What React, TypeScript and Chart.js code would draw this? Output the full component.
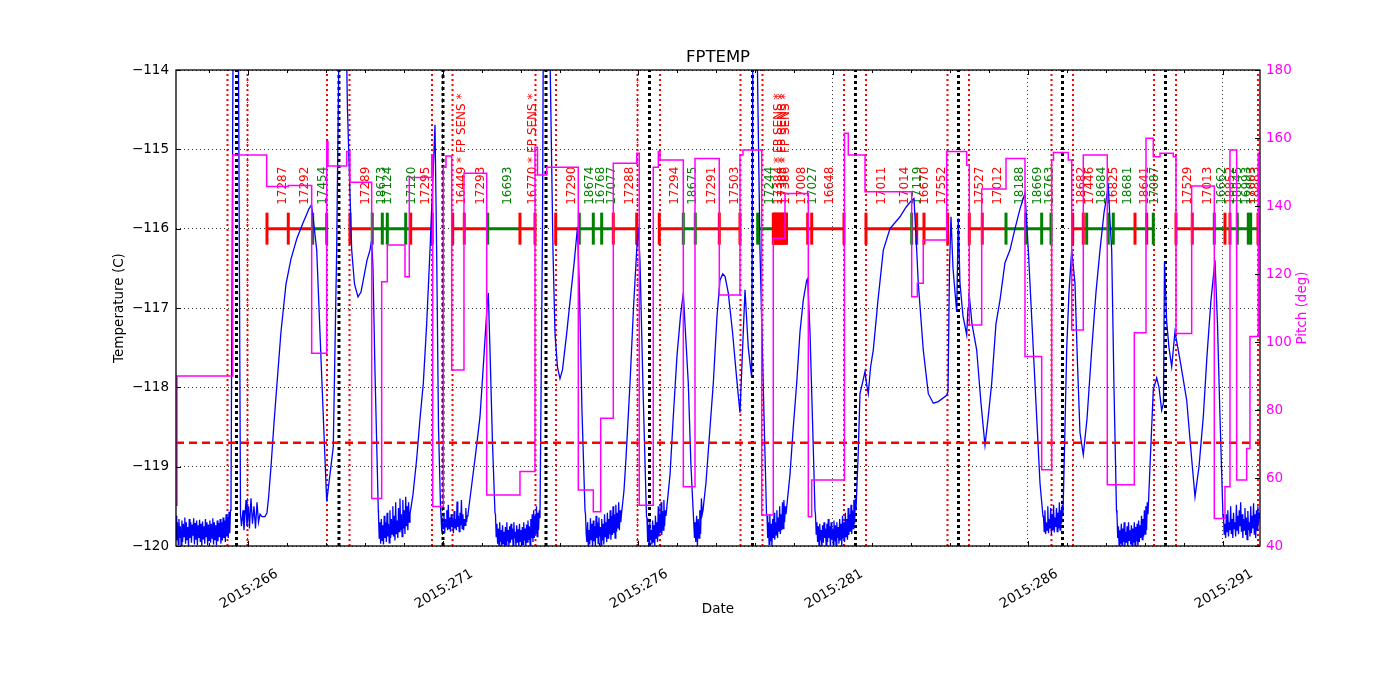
import React, { useEffect, useRef } from 'react';
import { Chart, registerables } from 'chart.js';

Chart.register(...registerables);

// ---------------- axis ranges & ticks ----------------
const X_MIN = 264.154;
const X_MAX = 291.949;
const dayTicks = [266, 271, 276, 281, 286, 291];
const minorDayTicks = [265, 266, 267, 268, 269, 270, 271, 272, 273, 274, 275, 276, 277, 278, 279, 280, 281, 282, 283, 284, 285, 286, 287, 288, 289, 290, 291];
const TEMP_MIN = -120;
const TEMP_MAX = -114;
const PITCH_MIN = 40;
const PITCH_MAX = 180;
const tempTickValues = [-120, -119, -118, -117, -116, -115, -114];
const pitchTickValues = [40, 60, 80, 100, 120, 140, 160, 180];

// ---------------- FPTEMP (deg C) smooth segments: [day-of-year, temp] ----------------
const tempKeyPoints: [number, number][] = [
  [265.564, -119.5], [265.628, -112.5], [265.744, -112.5], [265.808, -119.6],
  [265.833, -119.75], [265.872, -119.55], [265.897, -119.8], [265.949, -119.42], [265.974, -119.75],
  [266.013, -119.5], [266.038, -119.78], [266.077, -119.4], [266.115, -119.72], [266.154, -119.5],
  [266.192, -119.78], [266.231, -119.45], [266.269, -119.7], [266.308, -119.6], [266.359, -119.63],
  [266.436, -119.63], [266.487, -119.58], [266.526, -119.4], [266.590, -119.0], [266.667, -118.45],
  [266.744, -117.95], [266.846, -117.3], [266.974, -116.7], [267.103, -116.38], [267.256, -116.12],
  [267.410, -115.93], [267.564, -115.75], [267.628, -115.7], [267.679, -115.9], [267.762, -116.27],
  [267.890, -117.86], [268.018, -119.44], [268.187, -118.75], [268.274, -116.27], [268.321, -114.2],
  [268.346, -113.0], [268.500, -113.0], [268.551, -114.5], [268.659, -116.27], [268.731, -116.7],
  [268.821, -116.86], [268.897, -116.8], [268.974, -116.6], [269.051, -116.4], [269.128, -116.27],
  [269.172, -116.14], [269.205, -116.5], [269.256, -117.8], [269.341, -119.55],
  [270.231, -119.35], [270.326, -118.9], [270.410, -118.4], [270.495, -117.95], [270.582, -117.2],
  [270.667, -116.27], [270.731, -115.5], [270.795, -114.69], [270.838, -116.3], [270.885, -118.5],
  [270.936, -119.5],
  [271.744, -119.2], [271.846, -118.8], [271.949, -118.37], [272.051, -117.6], [272.128, -117.0],
  [272.162, -116.81], [272.205, -117.53], [272.269, -118.7], [272.333, -119.58],
  [273.551, -116.0], [273.577, -113.0], [273.718, -113.0], [273.756, -114.2], [273.821, -116.3],
  [273.872, -117.32], [273.936, -117.75], [274.000, -117.89], [274.064, -117.78], [274.172, -117.32],
  [274.282, -116.8], [274.359, -116.45], [274.449, -115.98], [274.500, -116.8], [274.564, -118.3],
  [274.641, -119.55],
  [275.641, -119.3], [275.692, -118.9], [275.795, -117.95], [275.885, -117.0], [275.967, -116.27],
  [276.008, -115.98], [276.051, -116.4], [276.128, -118.0], [276.218, -119.63],
  [276.821, -119.1], [276.905, -118.37], [277.000, -117.6], [277.090, -117.1], [277.162, -116.81],
  [277.205, -117.2], [277.290, -117.95], [277.359, -119.0], [277.449, -119.9],
  [277.744, -119.2], [277.833, -118.6], [277.931, -117.95], [278.026, -117.1], [278.103, -116.65],
  [278.172, -116.57], [278.231, -116.6], [278.315, -116.81], [278.423, -117.3], [278.531, -117.89],
  [278.615, -118.32], [278.667, -117.7], [278.744, -116.77], [278.828, -117.5], [278.915, -117.88],
  [278.936, -115.0], [278.949, -113.0], [279.038, -113.0], [279.077, -114.5], [279.128, -116.27],
  [279.213, -118.0], [279.295, -119.59],
  [279.897, -119.1], [279.982, -118.5], [280.069, -117.95], [280.154, -117.3], [280.238, -116.9],
  [280.326, -116.65], [280.351, -116.63], [280.410, -117.3], [280.495, -118.77], [280.538, -119.55],
  [281.649, -118.8], [281.692, -118.08], [281.777, -117.9], [281.821, -117.8], [281.859, -117.95],
  [281.905, -118.08], [281.962, -117.75], [282.033, -117.53], [282.154, -116.9], [282.290, -116.27],
  [282.462, -116.0], [282.718, -115.85], [282.872, -115.73], [283.018, -115.64], [283.077, -115.62],
  [283.146, -116.27], [283.187, -116.69], [283.315, -117.53], [283.444, -118.08], [283.572, -118.2],
  [283.700, -118.18], [283.915, -118.1], [283.949, -118.05], [283.987, -116.5], [284.026, -115.85],
  [284.077, -116.5], [284.172, -117.05], [284.213, -115.87], [284.256, -116.69], [284.333, -117.1],
  [284.428, -117.34], [284.462, -117.0], [284.487, -116.8], [284.564, -117.2], [284.685, -117.53],
  [284.795, -118.2], [284.897, -118.73], [284.974, -118.4], [285.069, -117.95], [285.179, -117.2],
  [285.282, -116.9], [285.410, -116.43], [285.538, -116.27], [285.667, -116.0], [285.795, -115.75],
  [285.923, -115.55], [286.008, -116.27], [286.154, -117.7], [286.308, -119.21], [286.385, -119.63],
  [286.949, -118.5], [286.992, -117.53], [287.051, -116.8], [287.121, -116.27], [287.205, -116.69],
  [287.269, -117.7], [287.333, -118.57], [287.418, -118.85], [287.513, -118.4], [287.633, -117.53],
  [287.744, -116.8], [287.846, -116.27], [287.949, -115.8], [288.059, -115.47], [288.103, -115.9],
  [288.146, -116.27], [288.205, -118.0], [288.269, -119.55],
  [289.128, -119.0], [289.213, -118.03], [289.300, -117.88], [289.359, -118.0], [289.428, -118.29],
  [289.474, -118.2], [289.500, -116.42], [289.556, -117.17], [289.615, -117.5], [289.685, -117.74],
  [289.731, -117.5], [289.769, -117.3], [289.897, -117.65], [290.069, -118.16], [290.179, -118.8],
  [290.282, -119.38], [290.385, -119.0], [290.495, -118.37], [290.590, -117.6], [290.692, -116.9],
  [290.795, -116.4], [290.859, -117.2], [290.923, -118.37], [291.000, -119.63],
];

// ---------------- FPTEMP cold (noisy) stretches, evenly sampled ----------------
const noiseStarts = [264.154, 269.346, 270.949, 272.346, 274.654, 276.231, 277.462, 279.308, 280.551, 286.397, 288.282, 291.013];
const noiseEnds = [265.551, 270.154, 271.641, 273.487, 275.577, 276.718, 277.667, 279.795, 281.590, 286.897, 289.077, 291.949];
const noiseValues: number[][] = [
  [-119.62, -119.93, -119.7, -119.98, -119.66, -119.9, -119.75, -120.0, -119.68, -119.95, -119.72, -119.88, -119.64, -119.97, -119.7, -119.92, -119.76, -120.0, -119.66, -119.9, -119.7, -119.96, -119.73, -119.87, -119.65, -119.98, -119.71, -119.92, -119.68, -119.99, -119.74, -119.9, -119.67, -119.95, -119.72, -120.0, -119.69, -119.91, -119.75, -119.97, -119.66, -119.88, -119.7, -119.99, -119.73, -119.93, -119.68, -119.96, -119.72, -119.9, -119.65, -119.98, -119.7, -119.92, -119.74, -119.99, -119.68, -119.94, -119.71, -119.89, -119.66, -119.97, -119.7, -119.93, -119.64, -119.9, -119.68, -119.95, -119.6, -119.88, -119.63, -119.9, -119.57, -119.84, -119.55],
  [-119.6, -119.9, -119.7, -119.97, -119.66, -119.93, -119.74, -119.98, -119.62, -119.9, -119.7, -119.95, -119.58, -119.88, -119.72, -119.96, -119.55, -119.9, -119.66, -119.85, -119.5, -119.88, -119.62, -119.93, -119.45, -119.85, -119.68, -119.9, -119.52, -119.82, -119.4, -119.8, -119.6, -119.88, -119.42, -119.78, -119.55, -119.85, -119.38, -119.75, -119.5, -119.8, -119.45, -119.7, -119.6],
  [-119.62, -119.82, -119.7, -119.78, -119.58, -119.84, -119.66, -119.76, -119.55, -119.8, -119.48, -119.78, -119.64, -119.82, -119.6, -119.76, -119.7, -119.84, -119.56, -119.78, -119.66, -119.8, -119.44, -119.76, -119.62, -119.82, -119.58, -119.74, -119.42, -119.78, -119.6, -119.8, -119.66, -119.74, -119.52, -119.7, -119.62, -119.6],
  [-119.6, -119.88, -119.72, -119.97, -119.78, -120.02, -119.7, -119.95, -119.8, -120.02, -119.74, -119.97, -119.82, -120.02, -119.76, -119.99, -119.7, -119.94, -119.8, -120.02, -119.75, -119.96, -119.72, -119.92, -119.78, -120.02, -119.7, -119.9, -119.82, -120.0, -119.74, -119.96, -119.79, -120.02, -119.72, -119.94, -119.8, -120.02, -119.76, -119.98, -119.7, -119.93, -119.78, -120.02, -119.73, -119.95, -119.68, -119.92, -119.75, -120.0, -119.66, -119.9, -119.6, -119.95, -119.55, -119.9, -119.62, -119.85, -119.5, -119.88, -119.58, -119.8, -119.55, -119.65],
  [-119.6, -119.85, -119.95, -119.7, -120.02, -119.8, -119.98, -119.65, -119.92, -119.72, -120.02, -119.68, -119.94, -119.75, -120.0, -119.62, -119.9, -119.7, -119.97, -119.64, -119.88, -119.76, -120.02, -119.66, -119.93, -119.72, -119.98, -119.6, -119.88, -119.7, -119.95, -119.58, -119.9, -119.66, -119.85, -119.55, -119.92, -119.62, -119.86, -119.5, -119.84, -119.6, -119.9, -119.48, -119.82, -119.58, -119.78, -119.45, -119.8, -119.55, -119.7, -119.6],
  [-119.65, -119.95, -119.75, -120.02, -119.7, -119.92, -119.8, -119.98, -119.68, -119.96, -119.74, -120.0, -119.62, -119.9, -119.7, -119.95, -119.5, -119.88, -119.6, -119.84, -119.45, -119.86, -119.56, -119.8, -119.42, -119.75, -119.55, -119.62],
  [-119.7, -119.95, -119.62, -120.0, -119.66, -119.9, -119.55, -119.85, -119.4, -119.6, -119.55],
  [-119.62, -119.9, -119.7, -119.98, -119.6, -119.94, -119.72, -120.0, -119.66, -119.9, -119.58, -119.92, -119.7, -119.86, -119.55, -119.9, -119.64, -119.82, -119.5, -119.85, -119.6, -119.8, -119.45, -119.78, -119.42, -119.7, -119.5, -119.6],
  [-119.6, -119.85, -119.7, -119.95, -119.75, -120.0, -119.72, -119.93, -119.8, -120.02, -119.74, -119.96, -119.7, -119.9, -119.78, -120.0, -119.72, -119.95, -119.66, -119.9, -119.75, -120.02, -119.7, -119.92, -119.78, -119.98, -119.68, -119.94, -119.74, -120.02, -119.7, -119.9, -119.76, -119.97, -119.66, -119.93, -119.72, -120.0, -119.62, -119.9, -119.7, -119.95, -119.58, -119.88, -119.66, -119.92, -119.52, -119.86, -119.6, -119.82, -119.48, -119.85, -119.55, -119.78, -119.42, -119.72, -119.4, -119.55],
  [-119.62, -119.82, -119.55, -119.85, -119.7, -119.8, -119.5, -119.84, -119.66, -119.78, -119.52, -119.86, -119.6, -119.8, -119.48, -119.83, -119.64, -119.76, -119.52, -119.82, -119.58, -119.78, -119.45, -119.8, -119.55, -119.72, -119.48, -119.6],
  [-119.6, -119.9, -119.75, -120.02, -119.8, -119.97, -119.72, -120.02, -119.78, -119.95, -119.7, -120.0, -119.82, -119.96, -119.75, -120.02, -119.7, -119.93, -119.8, -119.98, -119.74, -120.02, -119.78, -119.96, -119.7, -120.0, -119.76, -119.94, -119.72, -120.02, -119.68, -119.95, -119.74, -119.9, -119.62, -119.92, -119.66, -119.88, -119.55, -119.85, -119.5, -119.8, -119.45, -119.6],
  [-119.62, -119.85, -119.72, -119.9, -119.6, -119.82, -119.55, -119.88, -119.7, -119.8, -119.5, -119.85, -119.66, -119.9, -119.58, -119.78, -119.7, -119.88, -119.48, -119.8, -119.62, -119.85, -119.55, -119.75, -119.45, -119.82, -119.6, -119.9, -119.66, -119.8, -119.52, -119.86, -119.64, -119.92, -119.56, -119.8, -119.7, -119.88, -119.5, -119.84, -119.62, -119.78, -119.46, -119.85, -119.6, -119.9, -119.55, -119.8, -119.5, -119.72, -119.58, -119.65],
];

// ---------------- Pitch (deg), step series ----------------
const pitchDays = [
  264.154, 264.179, 265.608, 266.479, 267.033, 267.633, 268.018, 268.051, 268.531, 268.615,
  269.172, 269.428, 269.572, 270.026, 270.136, 270.710, 270.736, 271.008, 271.077, 271.223,
  271.538, 272.121, 272.974, 273.359, 273.423, 273.659, 274.469, 274.854, 275.044, 275.367,
  275.967, 276.033, 276.392, 276.521, 276.564, 277.162, 277.462, 278.085, 278.615, 278.692,
  279.172, 279.469, 279.769, 280.367, 280.454, 281.295, 281.392, 281.821, 283.018, 283.162,
  283.315, 283.915, 284.428, 284.495, 284.813, 285.436, 285.923, 286.351, 286.608, 286.654,
  287.033, 287.121, 287.418, 288.033, 288.726, 289.026, 289.213, 289.385, 289.726, 289.795,
  290.197, 290.777, 291.051, 291.179, 291.351, 291.608, 291.692, 291.905, 291.949,
];
const pitchValues = [
  52, 90, 155, 145.7, 146, 96.7, 159, 151.8, 156, 147,
  54, 117.7, 128.5, 119.2, 148.4, 155, 51.6, 151.4, 154.7, 91.8,
  149.6, 55, 61.9, 157.3, 149.1, 151.4, 56.5, 50.1, 77.6, 152.6,
  155.5, 52, 151.4, 156, 153.5, 57.4, 154, 113.8, 155, 156.5,
  49.1, 130.5, 143.7, 48.6, 59.4, 161.4, 155, 144.2, 113.3, 117.3,
  130, 156, 152, 105, 145, 154, 95.7, 62.4, 153.5, 155.7,
  153.5, 103.5, 155, 58, 102.7, 159.9, 154.5, 155.5, 154.5, 102.5,
  145.9, 48.1, 57.4, 156.5, 59.4, 68.7, 101.6, 155.5, 155.5,
];

// ---------------- reference levels / events ----------------
const planningLimit = -118.7;
const perigeeDays = [265.705, 268.333, 271.0, 273.641, 276.295, 278.936, 281.577, 284.218, 286.885, 289.526];
const radZoneDays = [265.474, 265.987, 268.026, 268.603, 270.718, 271.244, 273.372, 273.897, 275.987, 276.564, 278.628, 279.192, 281.282, 281.846, 283.936, 284.487, 286.603, 287.154, 289.231, 289.795, 291.897];

// ---------------- observation timeline ----------------
const TIMELINE_LEVEL = -116;
const OBS_LABEL_BASE = -115.7;
const redObsSegments: [number, number][] = [
  [266.487, 267.659], [268.615, 269.187], [270.172, 270.726], [271.249, 272.146], [272.974, 273.359],
  [273.890, 274.495], [275.367, 275.967], [276.546, 277.162], [277.469, 278.615], [279.469, 281.282],
  [281.846, 283.941], [284.495, 285.436], [287.146, 287.505], [289.795, 290.777],
];
const greenObsSegments: [number, number][] = [
  [267.659, 268.018], [269.187, 270.172], [272.146, 272.974], [274.495, 275.367], [277.162, 277.469],
  [279.069, 279.469], [285.436, 286.590], [287.505, 289.213], [290.777, 291.897],
];
const redObsEdges = [
  266.487, 267.033, 268.615, 270.172, 270.726, 271.249, 271.546, 272.974, 273.359, 273.890,
  275.367, 275.967, 276.546, 278.085, 278.615,
  279.469, 279.500, 279.531, 279.562, 279.592, 279.623, 279.654, 279.685, 279.715, 279.746, 279.777, 279.808,
  280.351, 280.454, 281.282, 281.846, 283.146, 283.333, 283.941, 284.495, 284.828, 287.146, 287.418,
  288.744, 289.044, 289.795, 290.213, 291.051, 291.179, 291.897,
];
const greenObsEdges = [
  267.659, 268.018, 269.187, 269.444, 269.572, 270.044, 272.146, 274.495, 274.854, 275.069,
  277.162, 277.469, 279.069, 283.018, 285.436, 285.941, 286.351, 286.590, 287.505, 288.059,
  288.187, 289.213, 290.777, 291.367, 291.649, 291.710,
];
const obsLabelDays = [
  266.897, 267.462, 267.923, 269.026, 269.436, 269.590, 270.197, 270.564, 271.495, 271.967,
  272.674, 273.300, 274.300, 274.769, 275.051, 275.326, 275.795, 276.949, 277.403, 277.890,
  278.487, 279.385, 279.615, 279.705, 279.795, 280.197, 280.495, 280.923, 282.249, 282.846,
  283.187, 283.359, 283.787, 284.769, 285.238, 285.795, 286.264, 286.564, 287.377, 287.590,
  287.890, 288.213, 288.572, 289.000, 289.256, 290.110, 290.623, 290.982, 291.205, 291.377,
  291.608, 291.736, 291.846,
];
const obsLabelTexts = [
  '17287', '17292', '17454', '17289', '18673', '17124', '17120', '17295', '16449 * FP SENS *', '17293',
  '16693', '16770 * FP SENS *', '17290', '18674', '16768', '17077', '17288', '17294', '18675', '17291',
  '17503', '17244', '17384 * FP SENS *', '17385 * FP SENS *', '17386 * FP SENS *', '17008', '17027', '16648', '17011', '17014',
  '17119', '16670', '17552', '17527', '17012', '18188', '18669', '16763', '18682', '17446',
  '18684', '16825', '18681', '18641', '17087', '17529', '17013', '16662', '18852', '18845',
  '16993', '17003', '18883',
];
const obsLabelKinds = [
  'r', 'r', 'g', 'r', 'g', 'g', 'g', 'r', 'r', 'r',
  'g', 'r', 'r', 'g', 'g', 'g', 'r', 'r', 'g', 'r',
  'r', 'g', 'r', 'r', 'r', 'r', 'g', 'r', 'r', 'r',
  'g', 'r', 'r', 'r', 'r', 'g', 'g', 'g', 'r', 'r',
  'g', 'r', 'g', 'r', 'g', 'r', 'r', 'g', 'r', 'g',
  'g', 'g', 'r',
];

// ---------------- styles ----------------
const RED = '#ff0000';
const GREEN = '#008000';
const BLUE = '#0000ff';
const MAGENTA = '#ff00ff';
const FONT = '"DejaVu Sans", sans-serif';

function buildTemp() {
  const pts: { x: number; y: number }[] = tempKeyPoints.map(([x, y]) => ({ x, y }));
  noiseStarts.forEach((s, k) => {
    const e = noiseEnds[k];
    const vals = noiseValues[k];
    vals.forEach((v, i) => pts.push({ x: s + ((e - s) * i) / (vals.length - 1), y: v }));
  });
  pts.sort((a, b) => a.x - b.x);
  return pts;
}

function verticals(days: number[]) {
  const out: any[] = [];
  days.forEach((d) => {
    out.push({ x: d, y: TEMP_MIN }, { x: d, y: TEMP_MAX }, { x: d, y: null });
  });
  return out;
}

function segments(segs: [number, number][]) {
  const out: any[] = [];
  segs.forEach(([a, b]) => {
    out.push({ x: a, y: TIMELINE_LEVEL }, { x: b, y: TIMELINE_LEVEL }, { x: b, y: null });
  });
  return out;
}

const decorations = {
  id: 'decorations',
  beforeDatasetsDraw(chart: any) {
    const { ctx } = chart;
    const xs = chart.scales.x;
    const ys = chart.scales.y;
    ctx.save();
    ctx.font = `12px ${FONT}`;
    ctx.textAlign = 'left';
    ctx.textBaseline = 'middle';
    obsLabelDays.forEach((d, i) => {
      ctx.save();
      ctx.translate(xs.getPixelForValue(d), ys.getPixelForValue(OBS_LABEL_BASE));
      ctx.rotate(-Math.PI / 2);
      ctx.fillStyle = obsLabelKinds[i] === 'g' ? GREEN : RED;
      ctx.fillText(obsLabelTexts[i], 0, 0);
      ctx.restore();
    });
    ctx.restore();
  },
  afterDraw(chart: any) {
    const { ctx, chartArea: a } = chart;
    const xs = chart.scales.x;
    const ys = chart.scales.y;
    const y2 = chart.scales.y2;
    ctx.save();
    ctx.strokeStyle = '#000';
    ctx.lineWidth = 1;
    // inward ticks
    ctx.beginPath();
    minorDayTicks.forEach((d) => {
      const px = Math.round(xs.getPixelForValue(d)) + 0.5;
      const len = dayTicks.includes(d) ? 5 : 3;
      ctx.moveTo(px, a.bottom);
      ctx.lineTo(px, a.bottom - len);
      ctx.moveTo(px, a.top);
      ctx.lineTo(px, a.top + len);
    });
    tempTickValues.forEach((v) => {
      const py = Math.round(ys.getPixelForValue(v)) + 0.5;
      ctx.moveTo(a.left, py);
      ctx.lineTo(a.left + 5, py);
    });
    pitchTickValues.forEach((v) => {
      const py = Math.round(y2.getPixelForValue(v)) + 0.5;
      ctx.moveTo(a.right, py);
      ctx.lineTo(a.right - 5, py);
    });
    ctx.stroke();
    // spines
    ctx.lineWidth = 1.3;
    ctx.strokeRect(a.left, a.top, a.right - a.left, a.bottom - a.top);
    // titles
    const cx = (a.left + a.right) / 2;
    const cy = (a.top + a.bottom) / 2;
    ctx.fillStyle = '#000';
    ctx.textAlign = 'center';
    ctx.textBaseline = 'middle';
    ctx.font = `16.5px ${FONT}`;
    ctx.fillText('FPTEMP', cx, a.top - 12);
    ctx.font = `13.5px ${FONT}`;
    ctx.fillText('Date', cx, a.bottom + 63);
    ctx.save();
    ctx.translate(a.left - 57, cy);
    ctx.rotate(-Math.PI / 2);
    ctx.fillText('Temperature (C)', 0, 0);
    ctx.restore();
    ctx.save();
    ctx.translate(a.right + 42, cy);
    ctx.rotate(-Math.PI / 2);
    ctx.fillStyle = MAGENTA;
    ctx.fillText('Pitch (deg)', 0, 0);
    ctx.restore();
    ctx.restore();
  },
};

export default function App() {
  const ref = useRef<HTMLCanvasElement>(null);
  useEffect(() => {
    if (!ref.current) return;
    Chart.defaults.font.family = FONT;
    const pitchData = pitchDays.map((d, i) => ({ x: d, y: pitchValues[i] }));
    const capBase = {
      type: 'line',
      showLine: false,
      pointStyle: 'line',
      rotation: 90,
      pointRadius: 16,
      pointBorderWidth: 3,
      yAxisID: 'y',
      order: 3,
    };
    const chart = new Chart(ref.current, {
      type: 'line',
      data: {
        datasets: [
          {
            data: pitchData, yAxisID: 'y2', borderColor: MAGENTA, borderWidth: 1.5,
            stepped: true, pointRadius: 0, order: 0,
          },
          {
            data: [{ x: X_MIN, y: planningLimit }, { x: X_MAX, y: planningLimit }], yAxisID: 'y',
            borderColor: RED, borderWidth: 2.5, borderDash: [8, 5], pointRadius: 0, order: 1,
          },
          {
            data: buildTemp(), yAxisID: 'y', borderColor: BLUE, borderWidth: 1.3,
            pointRadius: 0, tension: 0, order: 2,
          },
          {
            ...capBase, data: redObsEdges.map((d) => ({ x: d, y: TIMELINE_LEVEL })),
            borderColor: RED, pointBorderColor: RED, backgroundColor: RED,
          },
          {
            ...capBase, data: greenObsEdges.map((d) => ({ x: d, y: TIMELINE_LEVEL })),
            borderColor: GREEN, pointBorderColor: GREEN, backgroundColor: GREEN,
          },
          {
            data: segments(redObsSegments), yAxisID: 'y', borderColor: RED, borderWidth: 3,
            pointRadius: 0, spanGaps: false, order: 4,
          },
          {
            data: segments(greenObsSegments), yAxisID: 'y', borderColor: GREEN, borderWidth: 3,
            pointRadius: 0, spanGaps: false, order: 4,
          },
          {
            data: verticals(perigeeDays), yAxisID: 'y', borderColor: '#000', borderWidth: 3,
            borderDash: [3, 3], pointRadius: 0, spanGaps: false, order: 5,
          },
          {
            data: verticals(radZoneDays), yAxisID: 'y', borderColor: RED, borderWidth: 2,
            borderDash: [2, 3], pointRadius: 0, spanGaps: false, order: 5,
          },
        ] as any,
      },
      options: {
        animation: false,
        responsive: false,
        devicePixelRatio: 1,
        events: [],
        layout: { padding: { top: 70, left: 0, right: 0, bottom: 0 } },
        plugins: { legend: { display: false }, tooltip: { enabled: false }, title: { display: false } },
        scales: {
          x: {
            type: 'linear',
            min: X_MIN,
            max: X_MAX,
            afterBuildTicks: (s: any) => {
              s.ticks = dayTicks.map((v) => ({ value: v }));
            },
            afterFit: (s: any) => {
              s.height = 154;
            },
            grid: { display: true, color: 'rgba(0,0,0,0.8)', lineWidth: 1, drawTicks: false },
            border: { display: false, dash: [1, 3] },
            ticks: {
              autoSkip: false,
              minRotation: 30,
              maxRotation: 30,
              padding: 20,
              labelOffset: 29,
              color: '#000',
              font: { size: 13.5, family: FONT },
              callback: (v: any) => '2015:' + v,
            },
          },
          y: {
            type: 'linear',
            position: 'left',
            min: TEMP_MIN,
            max: TEMP_MAX,
            afterFit: (s: any) => {
              s.width = 176;
            },
            grid: { display: true, color: 'rgba(0,0,0,0.8)', lineWidth: 1, drawTicks: false },
            border: { display: false, dash: [1, 3] },
            ticks: {
              stepSize: 1,
              padding: 7,
              color: '#000',
              font: { size: 13.5, family: FONT },
              callback: (v: any) => '\u2212' + Math.abs(Number(v)),
            },
          },
          y2: {
            type: 'linear',
            position: 'right',
            min: PITCH_MIN,
            max: PITCH_MAX,
            afterFit: (s: any) => {
              s.width = 140;
            },
            grid: { display: false, drawTicks: false },
            border: { display: false },
            ticks: {
              stepSize: 20,
              padding: 6,
              color: MAGENTA,
              font: { size: 13.5, family: FONT },
            },
          },
        },
      } as any,
      plugins: [decorations],
    });
    return () => chart.destroy();
  }, []);
  return (
    <div style={{ position: 'absolute', left: 0, top: 0, width: 1400, height: 700, background: '#fff' }}>
      <canvas ref={ref} width={1400} height={700} style={{ display: 'block', width: 1400, height: 700 }} />
    </div>
  );
}
